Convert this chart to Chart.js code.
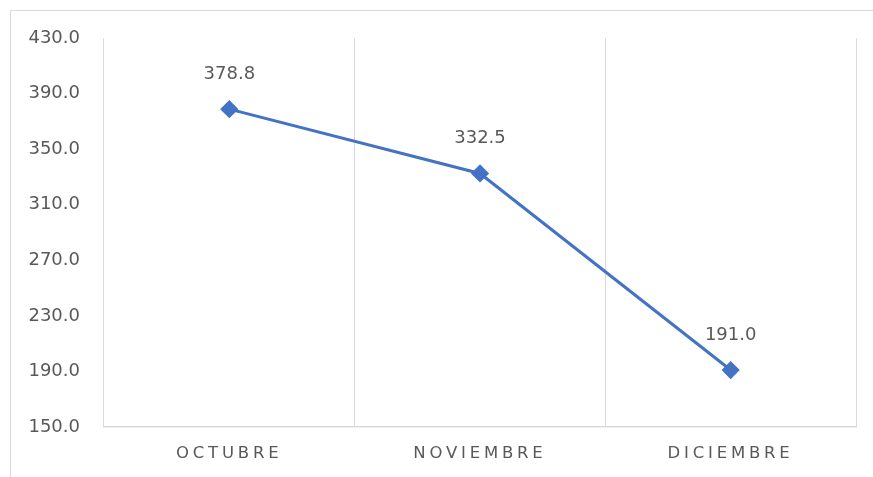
<html lang="es">
<head>
  <meta charset="UTF-8">
  <title>Chart</title>
  <script src="https://cdn.jsdelivr.net/npm/chart.js"></script>
  <style>
    body { margin: 0; background: #fff; }
    #wrap { position: relative; width: 873px; height: 477px; }
    #frame { position: absolute; left: 10px; top: 10px; width: 900px; height: 500px; border: 1px solid #d9d9d9; }
    #chart { position: absolute; left: 0; top: 0; }
  </style>
</head>
<body>
  <div id="wrap">
    <div id="frame"></div>
    <canvas id="chart" width="873" height="477"></canvas>
  </div>

  <script>
    const months = ['OCTUBRE', 'NOVIEMBRE', 'DICIEMBRE'];
    const values = [378.8, 332.5, 191.0];
    const yMin = 150;
    const yMax = 430;
    const yStep = 40;

    const textGray = '#595959';
    const gridGray = '#d9d9d9';
    const blue = '#4472C4';

    // valores encima de cada punto
    const pointLabels = {
      id: 'pointLabels',
      afterDatasetsDraw(chart) {
        const ctx = chart.ctx;
        const meta = chart.getDatasetMeta(0);
        ctx.save();
        ctx.font = '18px "DejaVu Sans"';
        ctx.fillStyle = textGray;
        ctx.textAlign = 'center';
        ctx.textBaseline = 'middle';
        meta.data.forEach((pt, i) => {
          ctx.fillText(values[i].toFixed(1), pt.x, pt.y - 35);
        });
        ctx.restore();
      }
    };

    // etiquetas de categoría con espaciado entre letras
    const spacedLabels = {
      id: 'spacedLabels',
      afterDraw(chart) {
        const ctx = chart.ctx;
        const x = chart.scales.x;
        const spacing = 3.8;
        ctx.save();
        ctx.font = '16.5px "DejaVu Sans"';
        ctx.fillStyle = textGray;
        ctx.letterSpacing = spacing + 'px';
        ctx.textAlign = 'center';
        ctx.textBaseline = 'middle';
        months.forEach((m, i) => {
          ctx.fillText(m, x.getPixelForValue(i) + spacing / 2 - 2, chart.chartArea.bottom + 27);
        });
        ctx.restore();
      }
    };

    new Chart(document.getElementById('chart'), {
      type: 'line',
      data: {
        labels: months,
        datasets: [{
          data: values,
          borderColor: blue,
          backgroundColor: blue,
          borderWidth: 3,
          pointStyle: 'rectRot',
          pointRadius: 7,
          pointHoverRadius: 7,
          fill: false,
          tension: 0
        }]
      },
      options: {
        responsive: false,
        animation: false,
        layout: { padding: { left: 0, right: 17, top: 38, bottom: 0 } },
        plugins: { legend: { display: false }, tooltip: { enabled: false } },
        scales: {
          x: {
            offset: true,
            grid: { offset: true, color: gridGray, lineWidth: 1, drawTicks: false },
            border: { color: gridGray, width: 1.5 },
            ticks: { display: false },
            afterFit(scale) { scale.height = 50; }
          },
          y: {
            min: yMin,
            max: yMax,
            grid: { display: false, drawTicks: false },
            border: { display: false },
            ticks: {
              stepSize: yStep,
              padding: 24,
              color: textGray,
              font: { family: 'DejaVu Sans', size: 18 },
              callback: v => v.toFixed(1)
            },
            afterFit(scale) { scale.width = 104; }
          }
        }
      },
      plugins: [pointLabels, spacedLabels]
    });
  </script>
</body>
</html>
